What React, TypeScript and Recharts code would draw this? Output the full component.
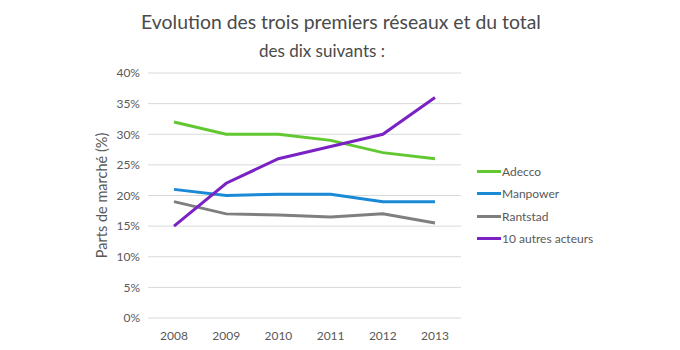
import { LineChart, Line, XAxis, YAxis, CartesianGrid } from "recharts";

const years = ["2008", "2009", "2010", "2011", "2012", "2013"];
const adecco = [32, 30, 30, 29, 27, 26];
const manpower = [21, 20, 20.2, 20.2, 19, 19];
const rantstad = [19, 17, 16.8, 16.5, 17, 15.5];
const autres = [15, 22, 26, 28, 30, 36];
const yTicks = [0, 5, 10, 15, 20, 25, 30, 35, 40];

const series = [
    { key: "adecco", name: "Adecco", color: "#62c832", values: adecco },
    { key: "manpower", name: "Manpower", color: "#1a8ad6", values: manpower },
    { key: "rantstad", name: "Rantstad", color: "#7f7f7f", values: rantstad },
    { key: "autres", name: "10 autres acteurs", color: "#7a22c4", values: autres },
];

const data = years.map((year, i) => {
    const row: any = { year };
    series.forEach((s) => (row[s.key] = s.values[i]));
    return row;
});

const font = "Lato, 'Open Sans', sans-serif";
const textColor = "#595959";

export default function App() {
    return (
        <div style={{ position: "absolute", left: 0, top: 0, width: 680, height: 350, background: "#fff", fontFamily: font }}>
            <div style={{ position: "absolute", left: 0, width: 682, top: 10, textAlign: "center", fontSize: 19.4, color: "#4a4a4a" }}>
                Evolution des trois premiers réseaux et du total
            </div>
            <div style={{ position: "absolute", left: 0, width: 644, top: 40, textAlign: "center", fontSize: 17, color: "#4a4a4a" }}>
                des dix suivants :
            </div>
            <LineChart width={680} height={350} data={data} margin={{ top: 73, right: 219, bottom: 2, left: 0 }}>
                <CartesianGrid vertical={false} stroke="#d9d9d9" />
                <XAxis
                    dataKey="year"
                    axisLine={false}
                    tickLine={false}
                    height={30}
                    padding={{ left: 26, right: 26 }}
                    tickMargin={7}
                    tick={{ fill: textColor, fontSize: 12 }}
                />
                <YAxis
                    width={148}
                    domain={[0, 40]}
                    ticks={yTicks}
                    axisLine={false}
                    tickLine={false}
                    tickFormatter={(v) => `${v}%`}
                    tick={{ fill: textColor, fontSize: 12 }}
                    label={{
                        value: "Parts de marché (%)",
                        angle: -90,
                        position: "insideLeft",
                        offset: 102,
                        style: { textAnchor: "middle", fill: textColor, fontSize: 14.5 },
                    }}
                />
                {series.map((s) => (
                    <Line
                        key={s.key}
                        type="linear"
                        dataKey={s.key}
                        name={s.name}
                        stroke={s.color}
                        strokeWidth={3}
                        dot={false}
                        isAnimationActive={false}
                    />
                ))}
            </LineChart>
            {series.map((s, i) => (
                <div key={s.key} style={{ position: "absolute", left: 477, top: 163 + i * 22.5, height: 16, display: "flex", alignItems: "center" }}>
                    <div style={{ width: 24, height: 3, background: s.color }} />
                    <span style={{ fontSize: 12, color: textColor, marginLeft: 1 }}>{s.name}</span>
                </div>
            ))}
        </div>
    );
}
